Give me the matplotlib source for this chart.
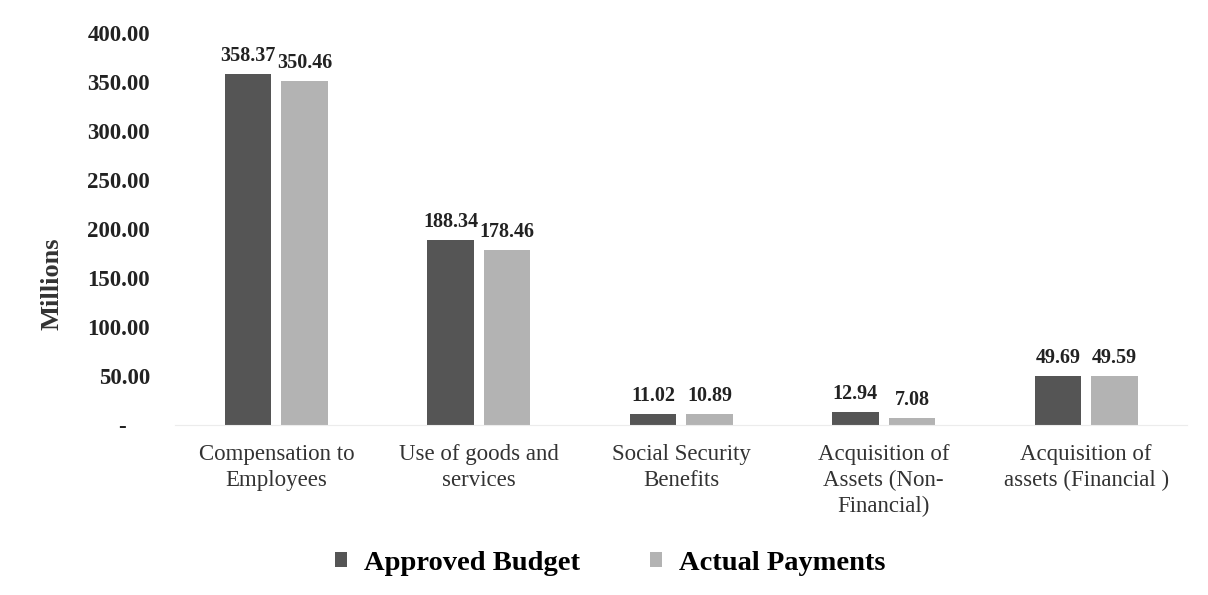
import matplotlib.pyplot as plt
import numpy as np

categories = ["Compensation to\nEmployees", "Use of goods and\nservices", "Social Security\nBenefits",
              "Acquisition of\nAssets (Non-\nFinancial)", "Acquisition of\nassets (Financial )"]
approved = [358.37, 188.34, 11.02, 12.94, 49.69]
actual = [350.46, 178.46, 10.89, 7.08, 49.59]
yticks = [0, 50, 100, 150, 200, 250, 300, 350, 400]

plt.rcParams['font.family'] = ['Liberation Serif', 'DejaVu Serif']

fig = plt.figure(figsize=(12.08, 5.95), dpi=100)
ax = fig.add_axes([0.145, 0.286, 0.838, 0.659])

x = np.arange(len(categories))
w = 0.23
gap = 0.05
b1 = ax.bar(x - (w + gap) / 2, approved, w, color="#555555", label="Approved Budget")
b2 = ax.bar(x + (w + gap) / 2, actual, w, color="#b3b3b3", label="Actual Payments")

for bars, vals in [(b1, approved), (b2, actual)]:
    for bar, v in zip(bars, vals):
        ax.text(bar.get_x() + bar.get_width() / 2, v + 8, "%.2f" % v, ha="center", va="bottom",
                fontsize=14.5, fontweight="bold", color="#222222")

ax.set_xlim(-0.5, len(categories) - 0.5)
ax.set_ylim(0, 400)
ax.set_yticks(yticks)
ax.set_yticklabels(["-    " if t == 0 else "%.2f" % t for t in yticks], fontsize=16.5, fontweight="bold",
                   color="#222222")
ax.set_xticks(x)
ax.set_xticklabels(categories, fontsize=16.5, color="#333333", linespacing=1.28)
ax.tick_params(axis="both", length=0)
ax.tick_params(axis="y", pad=18)
ax.tick_params(axis="x", pad=14)
for s in ["top", "right", "left"]:
    ax.spines[s].set_visible(False)
ax.spines["bottom"].set_color("#ececec")
ax.set_ylabel("Millions", fontsize=19, fontweight="bold", color="#333333")
ax.yaxis.set_label_coords(-0.11, 0.36)

fig.legend(handles=[b1, b2], loc="center", bbox_to_anchor=(0.505, 0.053), ncol=2, frameon=False,
           prop={"size": 20.5, "weight": "bold"}, handlelength=0.42, handleheight=0.42, columnspacing=2.45,
           handletextpad=0.6)

fig.savefig("out.png", dpi=100)
